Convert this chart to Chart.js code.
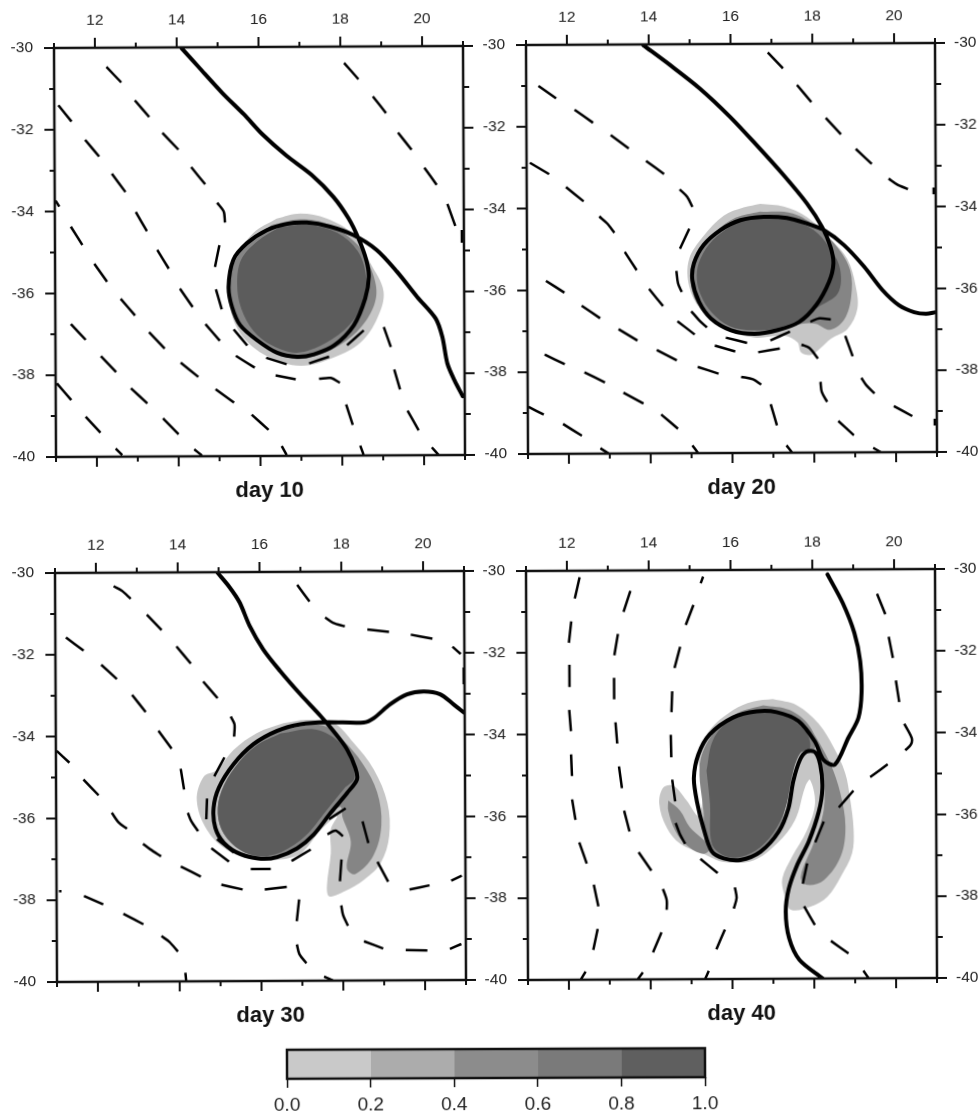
<!DOCTYPE html>
<html>
<head>
<meta charset="utf-8">
<title>Day 10 to day 40</title>
<script src="https://cdn.jsdelivr.net/npm/chart.js@4"></script>
<style>
  html, body { margin: 0; width: 978px; height: 1112px; overflow: hidden; background: #fff; }
  canvas { position: absolute; filter: blur(0.35px); }
</style>
</head>
<body>
<canvas id="day10" width="547" height="499"></canvas>
<canvas id="day20" width="547" height="499"></canvas>
<canvas id="day30" width="547" height="499"></canvas>
<canvas id="day40" width="547" height="499"></canvas>
<canvas id="colorbar" width="478" height="74"></canvas>
<script>
var xTicks = [11, 12, 13, 14, 15, 16, 17, 18, 19, 20, 21];
var yTicks = [-40, -39, -38, -37, -36, -35, -34, -33, -32, -31, -30];
var barSteps = [0.2, 0.2, 0.2, 0.2, 0.2];
var barColors = ['#c9c9c9', '#acacac', '#8c8c8c', '#7a7a7a', '#5f5f5f'];
var lightGray = '#c6c6c6', midGray = '#858585', darkGray = '#5c5c5c';

// thick streamline, x,y pairs
var day10Solid = [14.12,-30.02,14.54,-30.49,15.11,-31.12,15.64,-31.65,16.09,-32.14,16.67,-32.66,17.28,-33.13,17.81,-33.67,18.18,-34.2,18.42,-34.69,18.61,-35.22,18.67,-35.63,18.58,-36.16,18.3,-36.81,17.81,-37.31,17.32,-37.52,16.91,-37.58,16.42,-37.48,15.93,-37.17,15.52,-36.8,15.32,-36.35,15.24,-35.86,15.36,-35.2,15.69,-34.8,16.18,-34.48,16.67,-34.33,17.16,-34.3,17.73,-34.4,18.3,-34.61,18.87,-34.98,19.36,-35.51,19.85,-36.13,20.3,-36.66,20.46,-37.11,20.58,-37.76,20.75,-38.17,20.95,-38.56];
var day20Solid = [13.87,-30.02,14.51,-30.5,15.24,-31.08,15.98,-31.78,16.63,-32.48,17.28,-33.21,17.85,-33.91,18.22,-34.49,18.42,-34.97,18.49,-35.38,18.38,-35.83,18.06,-36.4,17.65,-36.8,17.12,-37,16.55,-37.09,15.98,-37,15.49,-36.71,15.2,-36.3,15.04,-35.77,15.08,-35.36,15.32,-34.91,15.73,-34.55,16.22,-34.31,16.79,-34.23,17.36,-34.26,17.85,-34.4,18.26,-34.56,18.75,-34.93,19.24,-35.46,19.69,-36.04,20.09,-36.41,20.46,-36.58,20.75,-36.62,20.99,-36.58];
var day30Solid = [14.98,-30.02,15.26,-30.36,15.51,-30.74,15.75,-31.31,16.08,-31.89,16.49,-32.42,16.98,-32.99,17.47,-33.52,17.79,-33.9,18.12,-34.35,18.32,-34.8,18.36,-35.08,18.12,-35.41,17.71,-35.9,17.3,-36.42,16.89,-36.76,16.4,-36.97,16,-37.01,15.51,-36.9,15.1,-36.62,14.89,-36.25,14.85,-35.76,14.98,-35.27,15.34,-34.7,15.83,-34.21,16.4,-33.89,16.98,-33.73,17.63,-33.68,18.53,-33.69,18.77,-33.59,19.18,-33.25,19.59,-33.01,20,-32.94,20.4,-33.01,20.73,-33.26,20.98,-33.46];
var day40Solid = [18.37,-30.12,18.74,-30.82,19.02,-31.55,19.16,-32.24,19.19,-33.02,19.11,-33.63,18.86,-34.12,18.53,-34.77,18.25,-34.65,18.04,-34.2,17.64,-33.7,17.11,-33.48,16.62,-33.46,16.04,-33.61,15.47,-34.02,15.19,-34.51,15.08,-35.08,15.15,-35.65,15.31,-36.31,15.51,-36.88,15.8,-37.05,16.21,-37.09,16.7,-36.89,17.15,-36.4,17.39,-35.83,17.51,-35.17,17.68,-34.64,17.84,-34.45,18.04,-34.46,18.17,-34.77,18.22,-35.35,18.13,-35.92,17.88,-36.65,17.6,-37.21,17.39,-37.79,17.31,-38.36,17.39,-39.01,17.64,-39.54,18.21,-40];

// dashed contours, one x,y run per dash
var day10Dashes = [
  [18.09,-30.4,18.44,-30.8],[18.79,-31.22,19.11,-31.63],[19.4,-32.11,19.73,-32.53],[20.04,-32.97,20.34,-33.39],[20.6,-33.86,20.79,-34.4],[20.95,-34.5,20.95,-34.81],
  [12.28,-30.47,12.64,-30.85],[12.97,-31.29,13.32,-31.7],[13.64,-32.09,14.03,-32.5],[14.34,-32.93,14.68,-33.35],[14.97,-33.8,15.13,-34.02,15.16,-34.29],[15.02,-34.84,14.91,-35.37],[14.93,-35.92,15.07,-36.41],[15.36,-36.9,15.69,-37.3],[16.15,-37.6,16.65,-37.76],[17.2,-37.74,17.69,-37.58],[18.13,-37.3,18.54,-36.94],[19.03,-36.86,19.2,-37.35],[19.28,-37.9,19.42,-38.39],[19.6,-38.91,19.87,-39.39],[20.19,-39.81,20.36,-40],
  [11.1,-31.4,11.42,-31.8],[11.75,-32.25,12.09,-32.66],[12.4,-33.08,12.73,-33.53],[12.98,-34.02,13.25,-34.49],[13.5,-34.95,13.78,-35.41],[14.05,-35.9,14.36,-36.35],[14.67,-36.77,15.02,-37.18],[15.41,-37.55,15.87,-37.84],[16.38,-38.03,16.87,-38.13],[17.44,-38.12,17.73,-38.1,17.95,-38.22],[18.1,-38.75,18.26,-39.25],[18.44,-39.76,18.52,-39.98],
  [11.02,-33.73,11.11,-33.88],[11.39,-34.37,11.67,-34.82],[11.96,-35.28,12.27,-35.72],[12.6,-36.14,12.95,-36.55],[13.29,-36.96,13.67,-37.36],[14.06,-37.71,14.49,-38.06],[14.91,-38.36,15.36,-38.69],[15.79,-38.99,16.2,-39.36],[16.52,-39.76,16.64,-39.98],
  [11.38,-36.75,11.74,-37.14],[12.11,-37.54,12.48,-37.93],[12.84,-38.33,13.24,-38.7],[13.62,-39.07,14,-39.46],[14.38,-39.83,14.57,-39.98],
  [11.03,-38.2,11.38,-38.61],[11.73,-39.02,12.09,-39.41],[12.46,-39.8,12.62,-39.96]
];
var day20Dashes = [
  [16.91,-30.21,17.28,-30.6],[17.62,-31.01,17.97,-31.43],[18.32,-31.82,18.69,-32.22],[19.05,-32.58,19.44,-32.95],[19.85,-33.31,20.05,-33.45,20.32,-33.57],[20.95,-33.53,20.95,-33.7],
  [11.3,-31,11.73,-31.31],[12.18,-31.59,12.63,-31.91],[13.06,-32.21,13.5,-32.54],[13.92,-32.85,14.36,-33.17],[14.74,-33.55,14.92,-33.73,15.05,-33.98],[14.97,-34.51,14.74,-35],[14.65,-35.54,14.69,-35.85,14.78,-36.06],[15.01,-36.53,15.2,-36.75,15.39,-36.93],[15.85,-37.18,16.37,-37.31],[16.94,-37.25,17.42,-37.04],[17.92,-36.8,18.14,-36.72,18.42,-36.75],[18.77,-37.15,18.95,-37.65],[19.16,-38.18,19.28,-38.36,19.48,-38.56],[19.95,-38.87,20.4,-39.12],[20.95,-39.19,20.95,-39.35],
  [11.08,-32.88,11.55,-33.16],[11.96,-33.48,12.39,-33.83],[12.77,-34.2,12.96,-34.37,13.14,-34.6],[13.39,-35.07,13.68,-35.52],[13.98,-35.98,14.32,-36.4],[14.67,-36.77,15.09,-37.1],[15.58,-37.37,16.08,-37.52],[16.64,-37.54,17.17,-37.45],[17.7,-37.36,17.89,-37.44,18.1,-37.7],[18.16,-38.27,18.19,-38.52,18.32,-38.76],[18.59,-39.23,18.97,-39.58],[19.44,-39.89,19.63,-40],
  [11.46,-35.77,11.91,-36.06],[12.33,-36.38,12.78,-36.69],[13.23,-36.96,13.69,-37.24],[14.16,-37.47,14.65,-37.73],[15.16,-37.89,15.67,-38.06],[16.22,-38.14,16.51,-38.2,16.71,-38.33],[16.94,-38.81,17.09,-39.33],[17.32,-39.82,17.46,-40],
  [11.42,-37.57,11.91,-37.81],[12.39,-38.01,12.89,-38.26],[13.34,-38.51,13.83,-38.78],[14.26,-39.05,14.67,-39.4],[15.02,-39.81,15.16,-40],
  [11.02,-38.85,11.39,-39.04],[11.86,-39.27,12.32,-39.56],[12.77,-39.87,12.98,-40]
];
var day30Dashes = [
  [12.43,-30.33,12.63,-30.44,12.85,-30.64],[13.24,-31.03,13.6,-31.41],[13.96,-31.81,14.31,-32.23],[14.61,-32.67,14.96,-33.08],[15.28,-33.53,15.37,-33.72,15.36,-34.02],[15.12,-34.53,14.87,-34.99],
  [14.05,-34.8,14.13,-35.31],[14.22,-35.88,14.3,-36.08,14.47,-36.33],[14.69,-35.53,14.67,-36.04],[14.93,-36.53,15.34,-36.86],[14.79,-36.75,15.22,-37.08],[15.75,-37.26,16.24,-37.26],[16.75,-37.07,17.22,-36.79],[17.67,-36.05,18.08,-35.79],[17.63,-36.42,17.83,-36.33,18.01,-36.47],[17.97,-37.04,17.93,-37.57],[18.49,-36.11,18.63,-36.64],[18.85,-37.1,19.11,-37.59],[19.63,-37.78,20.12,-37.68],[20.65,-37.57,20.91,-37.45],
  [16.92,-30.32,17.22,-30.73],[17.6,-31.12,17.79,-31.25,18.08,-31.34],[18.63,-31.42,19.16,-31.48],[19.69,-31.55,20.22,-31.65],[20.71,-31.85,20.91,-32.03],[20.98,-32.36,20.98,-32.77],
  [11.26,-31.58,11.69,-31.9],[12.12,-32.25,12.5,-32.6],[12.87,-32.99,13.2,-33.41],[13.51,-33.87,13.83,-34.31],
  [11.02,-34.35,11.33,-34.64],[11.67,-35.05,12.04,-35.44],[12.36,-35.87,12.53,-36.11,12.73,-36.26],[13.12,-36.63,13.3,-36.77,13.56,-36.94],[14.04,-37.19,14.53,-37.44],[15.03,-37.64,15.55,-37.76],[16.09,-37.76,16.63,-37.7],[16.93,-38.01,16.87,-38.54],[16.87,-39.11,16.93,-39.35,17.1,-39.57],[17.53,-39.9,17.75,-40],
  [11.06,-37.78,11.12,-37.78],[11.67,-37.9,12.14,-38.11],[12.63,-38.34,13.12,-38.6],[13.56,-38.89,13.75,-39.03,13.96,-39.27],[14.14,-39.79,14.16,-40],
  [17.96,-38.16,18,-38.39,18.12,-38.66],[18.51,-39.04,18.98,-39.22],[19.53,-39.26,20.06,-39.27],[20.61,-39.24,20.89,-39.12]
];
var day40Dashes = [
  [12.31,-30.16,12.19,-30.68],[12.1,-31.24,12.04,-31.76],[12.05,-32.3,12.05,-32.84],[12.04,-33.4,12.08,-33.92],[12.08,-34.49,12.1,-35.02],[12.1,-35.59,12.18,-36.09],[12.27,-36.64,12.45,-37.16],[12.62,-37.68,12.73,-38.21],[12.71,-38.76,12.6,-39.27],[12.41,-39.8,12.29,-40],
  [13.55,-30.5,13.38,-31.01],[13.24,-31.55,13.15,-32.07],[13.14,-32.62,13.14,-33.15],[13.17,-33.71,13.21,-34.23],[13.25,-34.79,13.32,-35.32],[13.37,-35.87,13.5,-36.38],[13.72,-36.89,14.03,-37.34],[14.31,-37.79,14.4,-38.06,14.4,-38.3],[14.27,-38.85,14.06,-39.34],[13.81,-39.83,13.68,-40],
  [15.33,-30.16,15.27,-30.32],[15.09,-30.85,14.9,-31.34],[14.76,-31.87,14.62,-32.39],[14.56,-32.96,14.54,-33.47],[14.52,-34.02,14.53,-34.57],[14.55,-35.12,14.62,-35.65],[14.63,-36.18,14.74,-36.47,14.86,-36.69],[15.23,-37.06,15.65,-37.41],[16.07,-37.76,16.11,-38.02,16.04,-38.28],[15.82,-38.79,15.61,-39.27],[15.42,-39.8,15.33,-40],
  [19.58,-30.6,19.78,-31.1],[19.86,-31.65,19.96,-32.17],[20.03,-32.72,20.11,-33.25],[20.23,-33.78,20.41,-34.13,20.39,-34.29,20.25,-34.43],[19.82,-34.77,19.39,-35.08],[18.98,-35.41,18.62,-35.82],[18.25,-36.16,18.04,-36.67],[17.84,-37.18,17.73,-37.68],[17.76,-38.23,18.02,-38.69],[18.41,-39.08,18.84,-39.39],[19.2,-39.81,19.33,-40]
];

// shaded tracer areas, outer to inner
var day10Light = [16.42,-34.2,17,-34.08,17.64,-34.2,18.3,-34.6,18.71,-35.3,19.03,-36,18.87,-36.65,18.46,-37.24,17.81,-37.6,17,-37.8,16.18,-37.57,15.52,-37,15.24,-36.17,15.28,-35.35,15.85,-34.55];
var day10Mid = [16.3,-34.35,17,-34.22,17.7,-34.35,18.4,-34.85,18.75,-35.5,18.85,-36.1,18.6,-36.7,18.1,-37.2,17.4,-37.55,16.8,-37.62,16.1,-37.3,15.6,-36.85,15.3,-36.2,15.3,-35.5,15.7,-34.8];
var day10Dark = [16.5,-34.4,17.2,-34.35,17.9,-34.55,18.4,-35,18.6,-35.6,18.55,-36.2,18.2,-36.8,17.6,-37.25,16.9,-37.48,16.3,-37.3,15.85,-36.95,15.55,-36.4,15.45,-35.8,15.55,-35.2,15.95,-34.75];
var day20Light = [16.71,-33.91,17.28,-33.98,17.85,-34.24,18.42,-34.78,18.83,-35.27,19.03,-35.92,19.07,-36.49,18.83,-36.98,18.42,-37.22,18.18,-37.43,17.93,-37.61,17.69,-37.55,17.6,-37.3,17.28,-37.14,16.55,-37.18,15.81,-36.97,15.24,-36.49,14.96,-35.91,14.96,-35.26,15.32,-34.69,15.81,-34.2,16.3,-34];
var day20Mid = [16.7,-34.1,17.5,-34.15,18.1,-34.5,18.6,-35,18.9,-35.55,18.92,-36.2,18.75,-36.75,18.4,-37,18.05,-36.85,17.7,-36.85,16.6,-37.1,15.9,-36.95,15.2,-36.4,15,-35.8,15.1,-35.2,15.6,-34.6,16.1,-34.25];
var day20Dark = [16.8,-34.25,17.4,-34.3,18,-34.55,18.4,-35,18.65,-35.5,18.6,-36.1,18.1,-36.45,17.65,-36.75,17.1,-36.95,16.5,-37,15.95,-36.9,15.5,-36.55,15.25,-36.15,15.15,-35.75,15.2,-35.35,15.45,-34.9,15.85,-34.55,16.3,-34.3];
var day30Light = [16.57,-33.7,17.14,-33.62,17.79,-33.7,18.28,-34.19,18.77,-34.84,19.1,-35.66,19.14,-36.47,18.93,-37.13,18.53,-37.53,18.04,-37.82,17.67,-37.94,17.61,-37.7,17.71,-36.88,17.71,-36.31,17.87,-35.98,17.47,-36.31,16.98,-36.88,16.4,-37.04,15.83,-37.04,15.18,-36.8,14.69,-36.31,14.44,-35.58,14.61,-35,14.93,-34.84,15.34,-34.35,15.91,-33.94];
var day30Mid = [16.6,-33.85,17.5,-33.75,18,-34.1,18.5,-34.7,18.85,-35.4,18.95,-36.2,18.75,-36.95,18.3,-37.4,18.1,-37.25,18.2,-36.6,18,-36,17.95,-35.75,17.6,-36,17,-36.7,16.3,-36.95,15.6,-36.85,15.1,-36.4,14.95,-35.8,15.1,-35.2,15.5,-34.6,16,-34.1];
var day30Dark = [16.5,-33.95,17.3,-33.85,17.85,-34.1,18.2,-34.6,18.3,-35.05,18.05,-35.3,17.6,-35.85,17.1,-36.45,16.5,-36.85,15.95,-36.95,15.5,-36.8,15.1,-36.4,14.95,-35.9,15.05,-35.35,15.4,-34.75,15.9,-34.25];
var day40Light = [17.02,-33.16,17.6,-33.31,18.13,-33.76,18.49,-34.33,18.78,-34.98,18.9,-35.63,18.98,-36.37,18.94,-36.94,18.66,-37.51,18.33,-38,17.92,-38.24,17.43,-38.31,17.27,-37.92,17.23,-37.55,17.47,-37.02,17.84,-36.37,18.04,-35.71,17.92,-35.14,17.8,-35.31,17.55,-36.12,17.11,-36.69,16.53,-37.1,15.8,-37.14,15.31,-36.94,14.74,-36.69,14.41,-36.29,14.23,-35.71,14.33,-35.31,14.58,-35.27,14.9,-35.63,15.19,-36,15.31,-35.22,15.19,-34.57,15.47,-33.92,16.04,-33.43,16.53,-33.22];
var day40Mid = [16.78,-33.31,17.43,-33.43,17.92,-33.84,18.04,-34.37,17.68,-34.41,17.43,-35.31,17.11,-36.45,16.62,-36.94,15.8,-37.06,15.39,-36.78,15.31,-35.88,15.23,-34.73,15.55,-34,16.13,-33.51];
var day40MidRight = [17.92,-33.84,18.41,-34.73,18.66,-35.47,18.78,-36.29,18.66,-37.02,18.25,-37.59,17.84,-37.71,17.68,-37.51,18,-36.69,18.25,-35.88,18.25,-35.06,18.04,-34.24];
var day40MidLeft = [14.45,-35.63,14.74,-35.88,14.98,-36.29,15.47,-36.78,15.31,-36.94,14.9,-36.73,14.62,-36.37,14.45,-35.88];
var day40Dark = [15.39,-34.9,15.47,-35.71,15.51,-36.69,15.8,-36.98,16.21,-37.02,16.7,-36.78,17.11,-36.29,17.35,-35.71,17.47,-35.06,17.68,-34.49,17.92,-34.37,17.84,-34,17.43,-33.63,16.94,-33.47,16.45,-33.47,15.96,-33.67,15.55,-34.16];

var tickFont = { family: "'Liberation Sans', Arial, sans-serif", size: 15.5 };

function toPoints(flat) {
  var pts = [];
  for (var i = 0; i < flat.length; i += 2) pts.push({ x: flat[i], y: flat[i + 1] });
  return pts;
}

function dashPoints(dashes) {
  var pts = [];
  dashes.forEach(function(d) {
    pts = pts.concat(toPoints(d));
    pts.push({ x: null, y: null });
  });
  return pts;
}

function fillSet(flat, color) {
  var pts = toPoints(flat);
  pts.push(pts[0]);
  return { data: pts, showLine: true, fill: 'shape', backgroundColor: color, borderWidth: 0, borderColor: 'transparent', tension: 0.35, pointRadius: 0 };
}

// minor and major tick marks on all four sides, frame on top
var frameTicks = {
  id: 'frameTicks',
  afterDraw: function(chart) {
    var c = chart.ctx, a = chart.chartArea, s = chart.scales;
    c.save();
    c.strokeStyle = '#111';
    c.lineWidth = 2;
    c.beginPath();
    xTicks.forEach(function(v) {
      var len = v % 2 === 0 ? 10 : 5, px = s.x.getPixelForValue(v);
      c.moveTo(px, a.top); c.lineTo(px, a.top - len);
      c.moveTo(px, a.bottom); c.lineTo(px, a.bottom + len);
    });
    yTicks.forEach(function(v) {
      var major = v % 2 === 0, py = s.y.getPixelForValue(v);
      c.moveTo(a.left, py); c.lineTo(a.left - (major ? 10 : 5), py);
      c.moveTo(a.right, py); c.lineTo(a.right + (major ? 10 : 6), py);
    });
    c.stroke();
    c.lineWidth = 2.5;
    c.strokeRect(a.left, a.top, a.right - a.left, a.bottom - a.top);
    c.restore();
  }
};

function evenLabel(v) { return v % 2 === 0 ? String(v) : ''; }

function hiddenGrid() { return { display: false, drawTicks: false }; }

function drawPanel(id, title, centerX, centerY, solid, dashes, fills, rightLabels) {
  var canvas = document.getElementById(id);
  canvas.style.left = (centerX - 264.5) + 'px';
  canvas.style.top = (centerY - 244.5) + 'px';
  canvas.style.transformOrigin = '264.5px 244.5px';
  canvas.style.transform = 'rotate(-0.28deg)';

  var sets = [
    { data: toPoints(solid), showLine: true, borderColor: '#000', borderWidth: 4, tension: 0.3, pointRadius: 0, borderCapStyle: 'round', borderJoinStyle: 'round' },
    { data: dashPoints(dashes), showLine: true, borderColor: '#000', borderWidth: 2.5, tension: 0.3, pointRadius: 0 }
  ].concat(fills);

  new Chart(canvas, {
    type: 'scatter',
    data: { datasets: sets },
    plugins: [frameTicks],
    options: {
      responsive: false,
      animation: false,
      layout: { padding: 0 },
      plugins: {
        legend: { display: false },
        tooltip: { enabled: false },
        title: {
          display: true,
          text: title,
          position: 'bottom',
          color: '#111',
          font: { family: "'Liberation Sans', Arial, sans-serif", size: 22, weight: 'bold', lineHeight: 26 / 22 },
          padding: { top: 2, bottom: 2 }
        }
      },
      scales: {
        x: {
          type: 'linear', position: 'top', min: 11, max: 21,
          grid: hiddenGrid(), border: { display: false },
          ticks: { stepSize: 1, autoSkip: false, maxRotation: 0, padding: 18, color: '#222', font: tickFont, callback: evenLabel },
          afterFit: function(scale) { scale.height = 40; }
        },
        xBottom: {
          type: 'linear', position: 'bottom', min: 11, max: 21,
          grid: hiddenGrid(), border: { display: false },
          ticks: { display: false },
          afterFit: function(scale) { scale.height = 20; }
        },
        y: {
          type: 'linear', position: 'left', min: -40, max: -30,
          grid: hiddenGrid(), border: { display: false },
          ticks: { stepSize: 1, autoSkip: false, padding: 21, color: '#222', font: tickFont, callback: evenLabel },
          afterFit: function(scale) { scale.width = 60; }
        },
        yRight: {
          type: 'linear', position: 'right', min: -40, max: -30,
          grid: hiddenGrid(), border: { display: false },
          ticks: { display: rightLabels, stepSize: 1, autoSkip: false, padding: 19, color: '#222', font: tickFont, callback: evenLabel },
          afterFit: function(scale) { scale.width = 78; }
        }
      }
    }
  });
}

drawPanel('day10', 'day 10', 259.5, 251.3, day10Solid, day10Dashes, [fillSet(day10Dark, darkGray), fillSet(day10Mid, midGray), fillSet(day10Light, lightGray)], false);
drawPanel('day20', 'day 20', 731, 248.8, day20Solid, day20Dashes, [fillSet(day20Dark, darkGray), fillSet(day20Mid, midGray), fillSet(day20Light, lightGray)], true);
drawPanel('day30', 'day 30', 260.3, 776.2, day30Solid, day30Dashes, [fillSet(day30Dark, darkGray), fillSet(day30Mid, midGray), fillSet(day30Light, lightGray)], false);
drawPanel('day40', 'day 40', 731.7, 774, day40Solid, day40Dashes, [fillSet(day40Dark, darkGray), fillSet(day40Mid, midGray), fillSet(day40MidRight, midGray), fillSet(day40MidLeft, midGray), fillSet(day40Light, lightGray)], true);

// colour scale
var barCanvas = document.getElementById('colorbar');
barCanvas.style.left = (496 - 239) + 'px';
barCanvas.style.top = (1063 - 19.5) + 'px';
barCanvas.style.transformOrigin = '239px 19.5px';
barCanvas.style.transform = 'rotate(-0.22deg)';
new Chart(barCanvas, {
  type: 'bar',
  data: {
    labels: [''],
    datasets: barSteps.map(function(v, i) {
      return { data: [v], backgroundColor: barColors[i], barPercentage: 1, categoryPercentage: 1 };
    })
  },
  plugins: [{
    id: 'barFrame',
    afterDraw: function(chart) {
      var c = chart.ctx, a = chart.chartArea;
      c.save();
      c.strokeStyle = '#111';
      c.lineWidth = 2.5;
      c.strokeRect(a.left, a.top, a.right - a.left, a.bottom - a.top);
      c.restore();
    }
  }],
  options: {
    indexAxis: 'y',
    responsive: false,
    animation: false,
    plugins: { legend: { display: false }, tooltip: { enabled: false } },
    scales: {
      x: {
        stacked: true, min: 0, max: 1,
        border: { display: false },
        grid: { drawOnChartArea: false, tickLength: 9, tickColor: '#111', tickWidth: 1.5 },
        ticks: { stepSize: 0.2, padding: 6, maxRotation: 0, color: '#222', font: { family: "'Liberation Sans', Arial, sans-serif", size: 19 }, callback: function(v) { return Number(v).toFixed(1); } },
        afterFit: function(scale) { scale.height = 40; }
      },
      y: {
        stacked: true,
        border: { display: false },
        grid: { display: false, drawTicks: false },
        ticks: { display: false },
        afterFit: function(scale) { scale.width = 30; }
      }
    },
    layout: { padding: { top: 5, right: 30 } }
  }
});
</script>
</body>
</html>
